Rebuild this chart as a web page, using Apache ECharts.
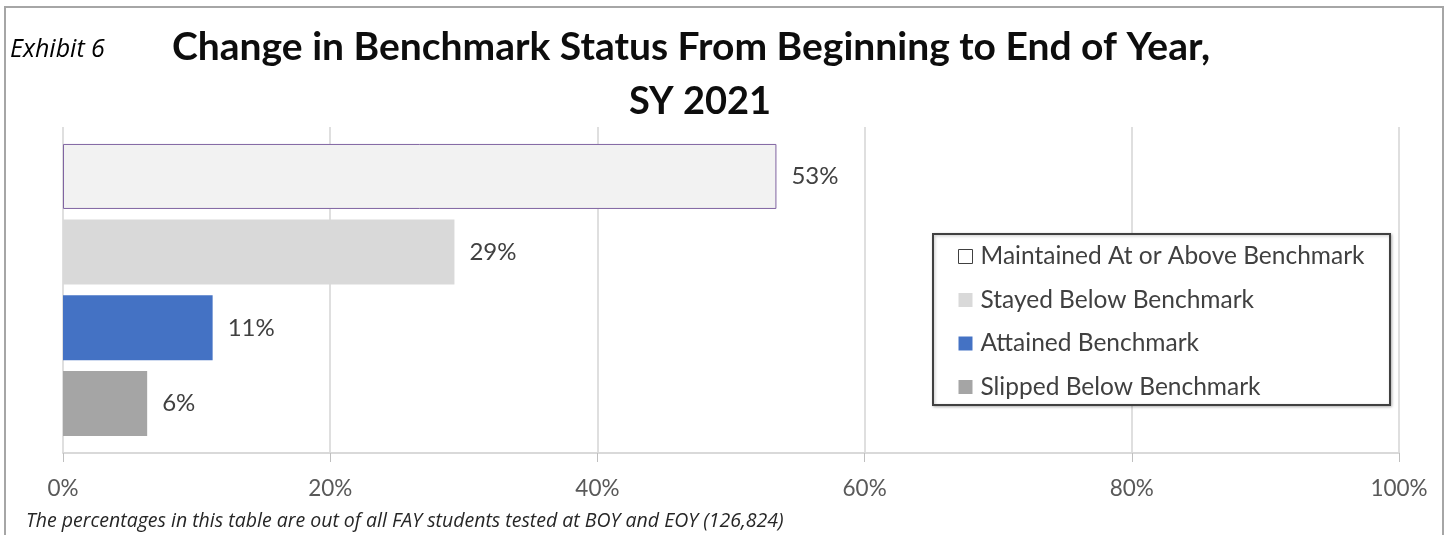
<!DOCTYPE html>
<html>
<head>
<meta charset="utf-8">
<script src="https://cdn.jsdelivr.net/npm/echarts@6/dist/echarts.min.js"></script>
<style>
html,body{margin:0;padding:0;background:#fff;}
#chart{width:1448px;height:535px;}
</style>
</head>
<body>
<div id="chart"></div>
<script>
const categories = ['Maintained At or Above Benchmark', 'Stayed Below Benchmark', 'Attained Benchmark', 'Slipped Below Benchmark'];
const values = [53.4, 29.3, 11.2, 6.3];
const xTicks = [0, 20, 40, 60, 80, 100];
const titleLines = ['Change in Benchmark Status From Beginning to End of Year,', 'SY 2021'];
const exhibitLabel = 'Exhibit 6';
const footnote = 'The percentages in this table are out of all FAY students tested at BOY and EOY (126,824)';

const barColors = ['#f2f2f2', '#d9d9d9', '#4472c4', '#a5a5a5'];
const legendIcon = [
  {color: '#ffffff', borderColor: '#404040', borderWidth: 1},
  {color: '#d9d9d9'},
  {color: '#4472c4'},
  {color: '#a5a5a5'}
];

const chart = echarts.init(document.getElementById('chart'), null, {renderer: 'canvas'});

const series = categories.map((name, i) => ({
  name: name,
  type: 'bar',
  stack: 'all',
  xAxisIndex: 1,
  yAxisIndex: 1,
  barWidth: 65,
  data: categories.map((c, j) => (j === i ? values[i] : '-')),
  itemStyle: i === 0
    ? {color: barColors[i], borderColor: '#8064a2', borderWidth: 1}
    : {color: barColors[i]},
  label: {
    show: true,
    position: 'right',
    distance: 15,
    formatter: p => Math.round(p.value) + '%',
    fontFamily: 'Lato',
    fontSize: 24,
    color: '#404040'
  },
  emphasis: {disabled: true},
  animation: false
}));

const option = {
  animation: false,
  grid: [
    {left: 63, right: 49, top: 127, height: 326},
    {left: 63, right: 49, top: 138.6, height: 302.7}
  ],
  xAxis: [
    {
      gridIndex: 0, type: 'value', min: xTicks[0], max: xTicks[xTicks.length - 1], interval: 20,
      axisLine: {show: true, lineStyle: {color: '#d9d9d9', width: 2}},
      axisTick: {show: true, length: 9, lineStyle: {color: '#bfbfbf', width: 1}},
      splitLine: {show: true, lineStyle: {color: '#d4d4d4', width: 1.5}},
      axisLabel: {formatter: '{value}%', fontFamily: 'Lato', fontSize: 22.5, color: '#595959', margin: 24}
    },
    {gridIndex: 1, type: 'value', min: 0, max: 100, show: false}
  ],
  yAxis: [
    {gridIndex: 0, type: 'value', show: false},
    {gridIndex: 1, type: 'category', inverse: true, data: categories, show: false}
  ],
  legend: {
    orient: 'vertical',
    left: 958,
    top: 244,
    itemWidth: 14,
    itemHeight: 14,
    itemGap: 18.5,
    icon: 'rect',
    selectedMode: false,
    padding: 0,
    textStyle: {fontFamily: 'Lato', fontSize: 24.5, color: '#404040', lineHeight: 24, padding: [0, 0, 0, 3]},
    data: categories.map((c, i) => ({name: c, itemStyle: legendIcon[i]}))
  },
  graphic: [
    {type: 'polyline', shape: {points: [[5, 540], [5, 7], [1443, 7], [1443, 540]]},
     style: {stroke: '#a6a6a6', lineWidth: 2, fill: null}, silent: true, z: 10},
    {type: 'rect', shape: {x: 933, y: 234, width: 457, height: 171},
     style: {fill: '#ffffff', stroke: '#404040', lineWidth: 2,
             shadowColor: 'rgba(0,0,0,0.25)', shadowBlur: 3, shadowOffsetX: 1, shadowOffsetY: 1}, z: 1},
    {type: 'text', x: 172, y: 47, style: {text: titleLines[0], font: 'bold 39px Lato', fill: '#0d0d0d', textAlign: 'left', textVerticalAlign: 'middle'}},
    {type: 'text', x: 700, y: 102, style: {text: titleLines[1], font: 'bold 38px Lato', fill: '#0d0d0d', textAlign: 'center', textVerticalAlign: 'middle'}},
    {type: 'text', x: 10, y: 50, style: {text: exhibitLabel, font: 'italic 25px "Open Sans"', fill: '#000000', textAlign: 'left', textVerticalAlign: 'middle'}},
    {type: 'text', x: 26, y: 521, style: {text: footnote, font: 'italic 19.5px "Open Sans"', fill: '#262626', textAlign: 'left', textVerticalAlign: 'middle'}}
  ],
  series: series
};
chart.setOption(option);
</script>
</body>
</html>
